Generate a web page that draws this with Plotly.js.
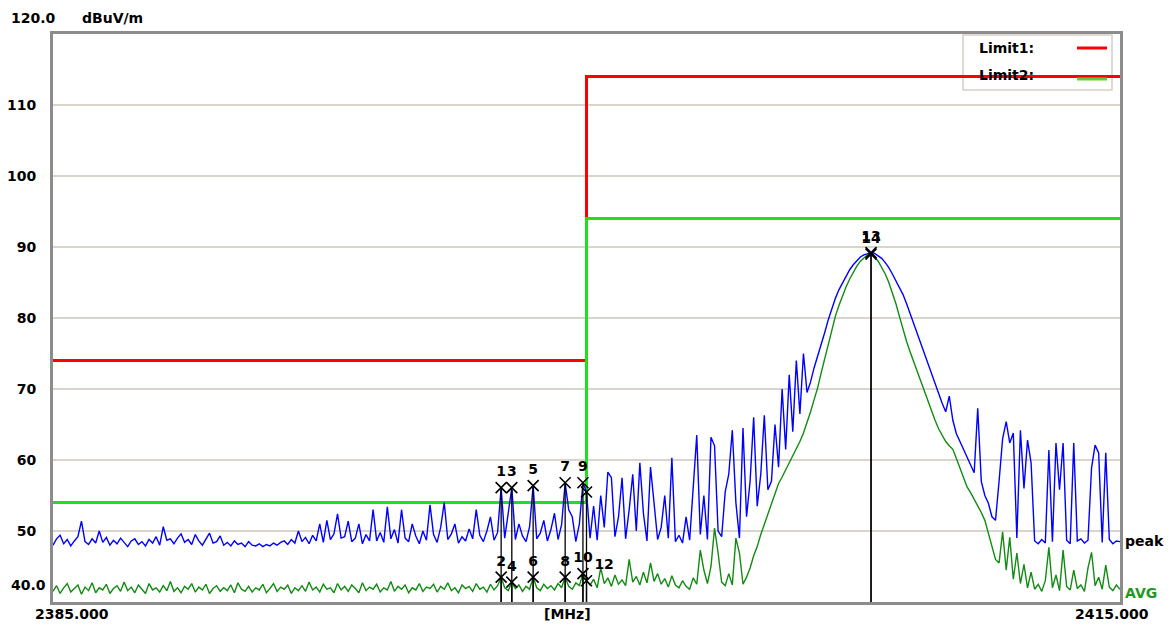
<!DOCTYPE html>
<html>
<head>
<meta charset="utf-8">
<script src="https://cdn.plot.ly/plotly-3.0.1.min.js"></script>
<style>html,body{margin:0;padding:0;background:#fff;}#chart{width:1174px;height:628px;}</style>
</head>
<body>
<div id="chart"></div>
<script>
// ---- DATA ----
const freqStart = 2385.0;   // MHz
const freqStep = 0.1;       // MHz
const peakLevels = [
48.0,48.9,49.4,48.2,48.8,47.9,48.6,49.2,51.4,48.5,
48.1,48.9,48.3,50.0,48.4,49.1,48.0,48.7,48.2,49.0,
48.4,47.8,48.6,48.9,48.1,48.5,47.9,48.8,48.3,49.2,
48.0,50.6,48.7,48.9,48.2,49.0,49.6,48.4,48.8,48.1,
49.5,48.6,48.0,48.9,49.7,48.3,48.5,49.3,48.0,48.4,
47.9,48.6,48.1,48.3,47.8,48.5,48.0,47.9,48.2,47.8,
48.1,47.9,48.3,48.0,48.4,48.6,48.1,48.8,48.3,50.0,
48.5,49.1,48.2,49.4,48.6,51.0,48.4,51.5,48.8,49.6,
52.4,49.0,49.2,51.4,48.5,49.0,51.0,48.2,49.5,48.6,
53.0,48.6,49.8,48.4,53.4,48.9,50.2,48.3,53.0,49.0,
48.5,51.0,49.3,48.2,50.0,48.7,53.7,49.5,48.4,50.5,
54.0,48.8,49.6,51.0,48.3,49.2,48.6,50.3,48.9,53.0,
49.4,48.5,50.0,52.0,48.7,49.8,56.1,49.0,52.5,56.1,
48.8,51.0,49.3,48.5,50.6,56.4,48.9,49.7,51.5,48.6,
50.2,52.5,48.8,50.9,56.8,53.0,52.0,48.5,51.0,56.8,
55.5,49.0,53.5,48.7,55.0,50.5,58.3,57.5,49.2,52.0,
57.5,48.9,53.0,58.0,50.0,59.6,52.5,48.6,59.0,54.0,
48.8,50.5,55.0,49.0,60.3,48.5,49.4,48.3,52.0,48.7,
56.0,63.5,49.5,55.0,48.8,63.2,62.0,50.0,49.2,55.5,
58.0,64.2,54.0,49.0,64.5,52.0,57.0,66.0,53.5,58.0,
66.3,55.8,57.0,65.0,59.0,70.0,61.5,72.0,64.0,74.0,
66.5,75.0,69.5,71.0,73.0,74.6,76.3,78.0,79.8,81.4,
82.8,84.0,85.0,86.0,86.8,87.5,88.1,88.6,88.9,89.1,
89.2,89.1,88.8,88.4,87.8,87.1,86.2,85.3,84.4,83.3,
82.0,80.6,79.2,77.8,76.4,75.0,73.5,72.0,70.5,69.2,
68.0,66.8,69.0,65.6,63.7,62.6,61.5,60.4,59.3,58.2,
67.3,57.0,55.0,53.9,52.0,51.5,57.0,63.0,65.4,62.4,
63.8,49.0,64.2,56.0,62.8,59.6,48.6,48.2,48.8,48.3,
61.4,48.5,62.4,55.8,62.4,48.7,48.2,62.4,48.6,48.9,
48.3,48.7,58.9,62.1,61.0,48.4,61.0,48.8,48.2,48.6,
48.5
];
const avgLevels = [
41.5,42.3,41.2,42.0,42.6,41.4,41.9,42.4,41.1,42.1,
41.6,42.7,41.3,42.0,41.7,42.5,41.2,41.9,42.3,41.5,
42.8,41.6,42.1,41.3,42.4,41.8,41.2,42.6,41.7,42.0,
41.4,42.3,41.6,42.9,41.5,42.0,41.3,42.2,41.8,42.6,
41.4,42.1,41.7,42.5,41.2,41.9,42.3,41.5,42.0,41.6,
42.4,41.3,42.7,41.8,41.5,42.2,41.4,42.0,41.7,42.5,
41.3,41.9,42.6,41.5,42.1,41.8,42.4,41.2,42.0,41.6,
42.3,41.5,42.8,41.7,42.1,41.4,42.5,41.8,42.0,41.3,
42.6,41.7,42.2,41.5,42.4,41.9,41.3,42.7,41.6,42.1,
41.8,42.5,41.4,42.0,41.7,42.9,41.5,42.2,41.8,42.4,
41.3,42.0,41.7,42.6,41.5,42.1,41.9,42.5,41.4,42.2,
41.8,42.7,41.6,42.0,41.3,42.4,41.9,42.2,41.5,42.6,
41.8,42.1,41.4,42.5,41.7,42.3,43.5,42.0,41.6,42.8,
41.9,42.4,41.5,42.2,41.8,43.5,42.0,41.6,42.5,41.9,
42.3,41.7,42.6,42.0,43.5,42.2,41.8,42.7,42.3,44.0,
43.0,42.4,43.2,42.0,44.8,42.6,43.4,42.2,43.8,42.5,
43.1,42.3,46.0,42.8,43.6,42.4,44.2,42.7,45.5,42.9,
44.0,42.5,43.3,42.1,43.7,42.4,42.0,43.0,42.2,41.8,
43.4,42.5,47.3,44.5,42.6,45.0,50.4,46.9,42.8,42.3,
44.0,42.4,49.0,46.9,42.5,43.5,44.8,46.5,47.8,49.5,
51.0,52.4,54.0,55.5,56.7,57.6,58.6,59.4,60.4,61.5,
62.6,63.8,65.2,66.8,68.5,70.2,72.3,74.4,76.5,78.5,
80.3,81.8,83.2,84.4,85.5,86.5,87.3,88.0,88.5,88.9,
89.0,88.6,88.0,87.2,86.2,85.0,83.6,82.0,80.2,78.4,
76.7,75.2,73.8,72.5,71.3,69.9,68.4,67.0,65.6,64.4,
63.4,62.6,62.0,61.5,60.2,58.8,57.4,56.2,55.4,54.5,
53.6,52.6,51.5,49.6,47.8,46.0,45.5,49.9,44.5,49.1,
43.2,46.9,42.6,45.3,42.0,44.2,41.8,42.5,41.5,43.0,
47.7,42.0,43.8,41.6,47.3,42.2,41.7,44.5,41.9,42.4,
41.5,44.8,47.0,42.3,43.5,41.8,45.2,42.1,41.6,42.4,
41.8
];
const limitFreq = [2385, 2400, 2415];
const limit1 = [74, 114, 114];
const limit2 = [54, 94, 94];

const peakMarkerNums = ["1","3","5","7","9","","13"];
const peakMarkerFreq = [2397.6, 2397.9, 2398.5, 2399.4, 2399.9, 2400.0, 2408.0];
const peakMarkerLevel = [56.1, 56.1, 56.4, 56.8, 56.8, 55.5, 89.2];
const avgMarkerNums = ["2","4","6","8","10","12","14"];
const avgMarkerFreq = [2397.6, 2397.9, 2398.5, 2399.4, 2399.9, 2400.0, 2408.0];
const avgMarkerLevel = [43.5, 42.8, 43.5, 43.5, 44.0, 43.0, 89.0];

const yTicks = [50, 60, 70, 80, 90, 100, 110];
const yMin = 40, yMax = 120, xMin = 2385, xMax = 2415;

// ---- BUILD ----
const freq = peakLevels.map((_, i) => +(freqStart + i * freqStep).toFixed(1));

function stemTrace(fs, ls) {
  const x = [], y = [];
  fs.forEach((f, i) => { x.push(f, f, null); y.push(yMin, ls[i], null); });
  return {x, y, mode: 'lines', line: {color: '#000', width: 1.3}, hoverinfo: 'skip', showlegend: false};
}

const FAM = 'DejaVu Sans, Verdana, sans-serif';
const markFont = {family: FAM, size: 14, color: '#000', weight: 'bold'};
const mk = {symbol: 'x-thin-open', size: 11, color: '#000', line: {width: 1.6, color: '#000'}};

const traces = [
  {x: limitFreq, y: limit1, mode: 'lines', line: {color: '#ff0000', width: 3, shape: 'hv'}, showlegend: false},
  {x: limitFreq, y: limit2, mode: 'lines', line: {color: '#1ee01e', width: 3, shape: 'hv'}, showlegend: false},
  {x: freq, y: peakLevels, mode: 'lines', line: {color: '#0000ff', width: 1.4}, showlegend: false},
  {x: freq, y: avgLevels, mode: 'lines', line: {color: '#138a13', width: 1.4}, showlegend: false},
  stemTrace(peakMarkerFreq, peakMarkerLevel),
  stemTrace(avgMarkerFreq, avgMarkerLevel),
  {x: peakMarkerFreq, y: peakMarkerLevel, mode: 'markers+text', text: peakMarkerNums,
   textposition: 'top center', textfont: markFont, marker: mk, showlegend: false},
  {x: avgMarkerFreq, y: avgMarkerLevel, mode: 'markers+text', text: avgMarkerNums,
   textposition: ['top center','top center','top center','top center','top center','top right','top center'],
   textfont: markFont, marker: mk, showlegend: false}
];

const L = 53, R = 1120, T = 34, B = 602;
const px = v => (v - L) / (R - L);
const py = v => (B - v) / (B - T);

const annFont = {family: FAM, size: 14, color: '#000', weight: 'bold'};
function ann(text, x, y, xanchor, color) {
  return {text, xref: 'paper', yref: 'paper', x: px(x), y: py(y), xanchor, yanchor: 'middle',
          showarrow: false, font: Object.assign({}, annFont, color ? {color} : {})};
}

const layout = {
  width: 1174, height: 628,
  margin: {l: L, r: 1174 - R, t: T, b: 628 - B, pad: 0},
  paper_bgcolor: '#fff', plot_bgcolor: '#fff',
  showlegend: false,
  xaxis: {range: [xMin, xMax], showgrid: false, zeroline: false, showticklabels: false,
          showline: true, mirror: true, linecolor: '#8c8c8c', linewidth: 3, ticks: ''},
  yaxis: {range: [yMin, yMax], tickvals: yTicks, ticktext: yTicks.map(String),
          showgrid: true, gridcolor: '#d9d5cd', gridwidth: 1.5, zeroline: false,
          showline: true, mirror: true, linecolor: '#8c8c8c', linewidth: 3, ticks: '',
          ticklabelstandoff: 11, tickfont: {family: FAM, size: 14, color: '#000', weight: 'bold'}},
  shapes: [
    {type: 'rect', xref: 'paper', yref: 'paper', x0: px(963), x1: px(1112), y0: py(90), y1: py(35),
     line: {color: '#d4d0c8', width: 1.5}, fillcolor: '#fff', layer: 'below'},
    {type: 'line', xref: 'paper', yref: 'paper', x0: px(1077), x1: px(1107), y0: py(48), y1: py(48),
     line: {color: '#ff0000', width: 3}},
    {type: 'line', xref: 'paper', yref: 'paper', x0: px(1077), x1: px(1107), y0: py(79), y1: py(79),
     line: {color: '#66cc33', width: 3}}
  ],
  annotations: [
    ann('120.0', 9, 18, 'left'),
    ann('dBuV/m', 80, 18, 'left'),
    ann('40.0', 48, 585, 'right'),
    ann('2385.000', 72, 614, 'center'),
    ann('[MHz]', 567, 614, 'center'),
    ann('2415.000', 1112, 614, 'center'),
    ann('peak', 1123, 541, 'left'),
    ann('AVG', 1123, 593, 'left', '#1f9a1f'),
    ann('Limit1:', 977, 48, 'left'),
    ann('Limit2:', 977, 75, 'left')
  ]
};

Plotly.newPlot('chart', traces, layout, {displayModeBar: false, staticPlot: true});
</script>
</body>
</html>
